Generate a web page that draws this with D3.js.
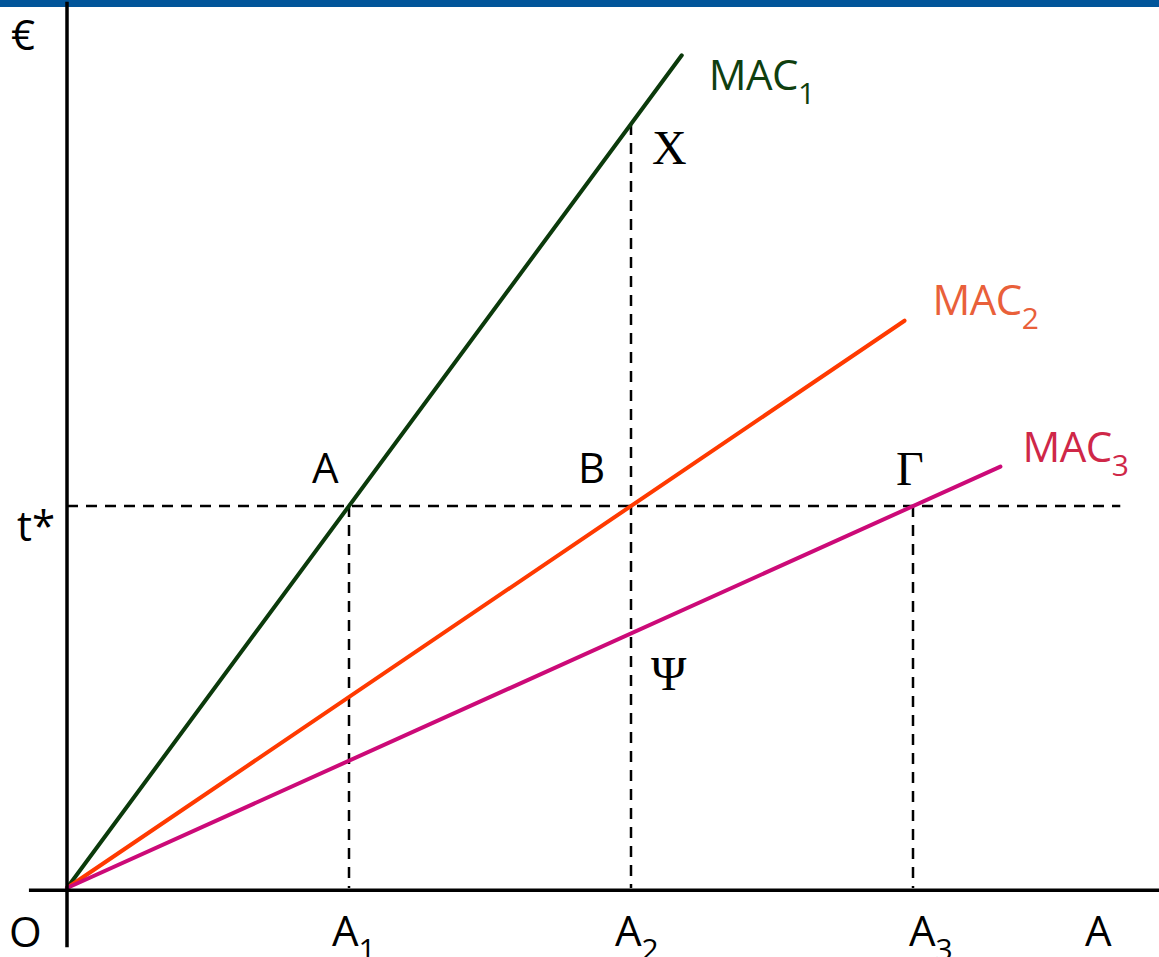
<!DOCTYPE html>
<html>
<head>
<meta charset="utf-8">
<script src="https://cdn.jsdelivr.net/npm/d3@7"></script>
<style>
  html, body { margin: 0; padding: 0; background: #fff; }
  svg { display: block; }
</style>
</head>
<body>
<svg id="chart" width="1159" height="957"></svg>
<script>
// ---- data ----
const tStar = 1;                       // tax level t*
const abatement = [1, 2, 3];           // A1, A2, A3
const macNames = ["MAC", "MAC", "MAC"];
const macSubs = ["1", "2", "3"];
const mac1 = [[0, 0], [2.18, 2.18]];
const mac2 = [[0, 0], [2.97, 1.485]];
const mac3 = [[0, 0], [3.31, 1.103]];
const macLineColors = ["#0b3a0b", "#ff3a00", "#cc0a78"];
const macTextColors = ["#0f3f0f", "#e9603a", "#cf2748"];
const pointLabels = ["A", "B", "Γ"];
const xPointLabel = "X";
const psiLabel = "Ψ";
const axisLabels = ["€", "t*", "O", "A"];
const tickLabels = ["A", "A", "A"];
const tickSubs = ["1", "2", "3"];

// ---- scales ----
const x = d3.scaleLinear().domain([0, 3]).range([67, 913]);
const y = d3.scaleLinear().domain([0, 1]).range([888, 506]);

const svg = d3.select("#chart");
const sans = "'Open Sans', 'Noto Sans', sans-serif";
const serif = "'Liberation Serif', 'DejaVu Serif', serif";
const fs = 42, fsSub = 30;

// top blue band
svg.append("rect").attr("x", 0).attr("y", 0).attr("width", 1159).attr("height", 7).attr("fill", "#02559a");

// dashed guides
const dash = "11,8";
const g = svg.append("g").attr("stroke", "#000").attr("stroke-width", 2.5).attr("stroke-dasharray", dash).attr("fill", "none");
g.append("line").attr("x1", x(0)).attr("x2", x(3.735)).attr("y1", y(tStar)).attr("y2", y(tStar));
g.append("line").attr("x1", x(abatement[0])).attr("x2", x(abatement[0])).attr("y1", y(tStar)).attr("y2", y(0));
g.append("line").attr("x1", x(abatement[2])).attr("x2", x(abatement[2])).attr("y1", y(tStar)).attr("y2", y(0));
g.append("line").attr("x1", x(abatement[1])).attr("x2", x(abatement[1])).attr("y1", y(2)).attr("y2", y(0));

// MAC lines
const line = d3.line().x(d => x(d[0])).y(d => y(d[1]));
[mac1, mac2, mac3].forEach((d, i) => {
  svg.append("path").attr("d", line(d)).attr("fill", "none")
    .attr("stroke", macLineColors[i]).attr("stroke-width", 4).attr("stroke-linecap", "round");
});

// axes
const ax = svg.append("g").attr("stroke", "#000").attr("stroke-width", 3.5);
ax.append("line").attr("x1", x(0)).attr("x2", x(0)).attr("y1", y(2.32)).attr("y2", y(-0.155));
ax.append("line").attr("x1", x(-0.135)).attr("x2", 1159).attr("y1", y(-0.006)).attr("y2", y(-0.006));

// MAC labels
const macLabelPos = [[mac1[1][0], mac1[1][1]], [mac2[1][0], mac2[1][1]], [mac3[1][0], mac3[1][1]]];
const macOffsets = [[27, 35], [28, -6], [22, -5]];
macLabelPos.forEach((p, i) => {
  const t = svg.append("text").attr("x", x(p[0]) + macOffsets[i][0]).attr("y", y(p[1]) + macOffsets[i][1])
    .attr("font-family", sans).attr("font-size", fs).attr("fill", macTextColors[i]).attr("letter-spacing", -0.5);
  t.append("tspan").text(macNames[i]);
  t.append("tspan").attr("font-size", fsSub).attr("dy", 14).text(macSubs[i]);
});

// point labels
svg.append("text").attr("x", x(abatement[0]) - 37).attr("y", y(tStar) - 23)
  .attr("font-family", sans).attr("font-size", fs).attr("fill", "#000").text(pointLabels[0]);
svg.append("text").attr("x", x(abatement[1]) - 53).attr("y", y(tStar) - 23)
  .attr("font-family", sans).attr("font-size", fs).attr("fill", "#000").text(pointLabels[1]);
svg.append("text").attr("x", x(abatement[2]) - 17).attr("y", y(tStar) - 21)
  .attr("font-family", serif).attr("font-size", 48).attr("fill", "#000").text(pointLabels[2]);
svg.append("text").attr("x", x(abatement[1]) + 21).attr("y", y(2) + 40)
  .attr("font-family", serif).attr("font-size", 48).attr("fill", "#000").text(xPointLabel);
svg.append("text").attr("x", x(abatement[1]) + 20).attr("y", y(2/3) + 57)
  .attr("font-family", serif).attr("font-size", 48).attr("fill", "#000").text(psiLabel);

// axis labels
svg.append("text").attr("x", 11).attr("y", 50).attr("font-family", sans).attr("font-size", fs).text(axisLabels[0]);
svg.append("text").attr("x", 17).attr("y", y(tStar) + 35).attr("font-family", sans).attr("font-size", fs).text(axisLabels[1]);
svg.append("text").attr("x", 9).attr("y", 947).attr("font-family", sans).attr("font-size", fs).text(axisLabels[2]);
svg.append("text").attr("x", 1085).attr("y", 946).attr("font-family", sans).attr("font-size", fs).text(axisLabels[3]);

// tick labels A1, A2, A3
const tickOffsets = [-17, -16, -4];
abatement.forEach((a, i) => {
  const t = svg.append("text").attr("x", x(a) + tickOffsets[i]).attr("y", 946)
    .attr("font-family", sans).attr("font-size", fs).attr("fill", "#000");
  t.append("tspan").text(tickLabels[i]);
  t.append("tspan").attr("font-size", fsSub).attr("dy", 14).text(tickSubs[i]);
});
</script>
</body>
</html>
